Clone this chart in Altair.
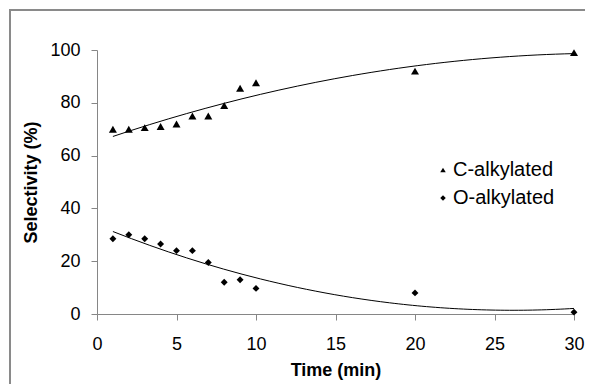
import altair as alt
import pandas as pd

times = [1, 2, 3, 4, 5, 6, 7, 8, 9, 10, 20, 30]
c_alkylated = [70, 70, 70.6, 71, 72, 75, 75, 79, 85.5, 87.6, 92, 99]
o_alkylated = [28.5, 30, 28.5, 26.5, 24, 24, 19.5, 12, 13, 9.7, 8, 0.7]
series_names = ["C-alkylated", "O-alkylated"]

df = pd.DataFrame(
    {"time": times * 2,
     "value": c_alkylated + o_alkylated,
     "series": [series_names[0]] * len(times) + [series_names[1]] * len(times)}
)

FONT = "Liberation Sans"

x = alt.X("time:Q", scale=alt.Scale(domain=[0, 30], nice=False),
          axis=alt.Axis(values=[0, 5, 10, 15, 20, 25, 30], title="Time (min)",
                        titlePadding=8, labelFlush=False))
y = alt.Y("value:Q", scale=alt.Scale(domain=[0, 100], nice=False),
          axis=alt.Axis(values=[0, 20, 40, 60, 80, 100], title="Selectivity (%)",
                        titlePadding=9))

shape = alt.Shape("series:N",
                  scale=alt.Scale(domain=series_names, range=["triangle-up", "diamond"]),
                  legend=alt.Legend(title=None, orient="none", legendX=336, legendY=110,
                                    labelFontSize=20, labelFont=FONT, labelColor="black",
                                    symbolSize=30, symbolFillColor="black",
                                    symbolStrokeColor="black", symbolStrokeWidth=0,
                                    rowPadding=8, padding=0, labelOffset=0))

frame = alt.Chart(pd.DataFrame({"a": [0]})).mark_rect(
    fill=None, stroke="#8a8a8a", strokeWidth=2, clip=False
).encode(x=alt.value(-87), x2=alt.value(520), y=alt.value(-40), y2=alt.value(360))

base = alt.Chart(df)

pts_c = base.transform_filter(alt.datum.series == series_names[0]).mark_point(
    filled=True, opacity=1, size=64, color="black"
).encode(x=x, y=y, shape=shape)

pts_o = base.transform_filter(alt.datum.series == series_names[1]).mark_point(
    filled=True, opacity=1, size=48, color="black"
).encode(x=x, y=y, shape=shape)

lines = base.transform_regression(
    "time", "value", groupby=["series"], method="poly", order=2, extent=[1, 30]
).mark_line(color="black", strokeWidth=1).encode(
    x="time:Q", y="value:Q", detail="series:N"
)

chart = alt.layer(frame, lines, pts_c, pts_o).properties(
    width=477, height=264,
    autosize=alt.AutoSizeParams(type="none"),
    padding={"left": 89, "top": 42, "right": 11, "bottom": 70},
).configure_view(stroke=None).configure_axis(
    grid=False, domainColor="#868686", tickColor="#868686", tickSize=6,
    labelFont=FONT, labelFontSize=18, labelColor="black", labelPadding=11,
    titleFont=FONT, titleFontSize=18, titleFontWeight="bold", titleColor="black",
).configure_axisX(labelPadding=15)

chart.save("out.html", embed_options={"renderer": "svg", "actions": False})
